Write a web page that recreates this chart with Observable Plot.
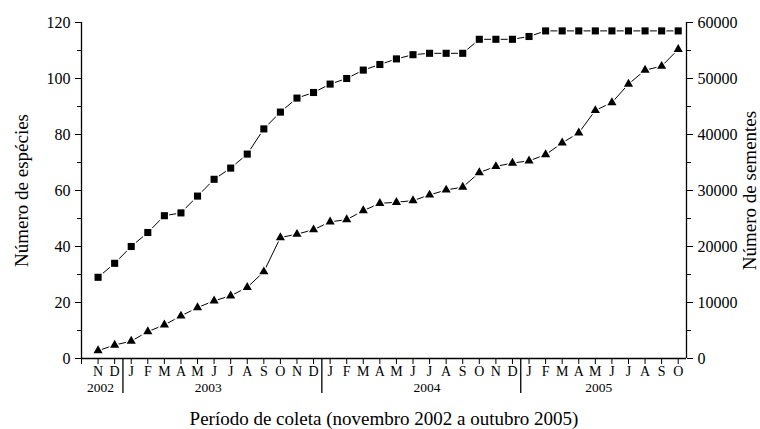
<!DOCTYPE html>
<html>
<head>
<meta charset="utf-8">
<script src="https://cdn.jsdelivr.net/npm/d3@7"></script>
<script src="https://cdn.jsdelivr.net/npm/@observablehq/plot@0.6"></script>
<style>
  html, body { margin: 0; padding: 0; background: #fff; }
  #chart svg { display: block; }
  #chart svg, #chart svg text, #chart svg g { font-family: "Liberation Serif", "Times New Roman", serif !important; font-variant: normal !important; font-variant-numeric: normal !important; }
  #chart g[aria-label="y-axis label"] text,
  #chart g[aria-label="x-axis label"] text { font-size: 19px; }
</style>
</head>
<body>
<div id="chart"></div>
<script>
// Month initials, November 2002 to October 2005
const months = ["N","D","J","F","M","A","M","J","J","A","S","O","N","D",
                "J","F","M","A","M","J","J","A","S","O","N","D",
                "J","F","M","A","M","J","J","A","S","O"];
// Cumulative number of species (left axis)
const species = [29,34,40,45,51,52,58,64,68,73,82,88,93,95,
                 98,100,103,105,107,108.5,109,109,109,114,114,114,
                 115,117,117,117,117,117,117,117,117,117];
// Cumulative number of seeds (right axis)
const seeds = [1400,2400,3100,4800,6000,7600,9100,10300,11200,12700,15500,21600,22200,23000,
               24400,24800,26400,27700,27900,28200,29200,30100,30600,33200,34300,34900,
               35300,36400,38500,40300,44300,45700,49000,51500,52200,55200];
// Year labels and their positions (in month index units)
const years = ["2002","2003","2004","2005"];
const yearPos = [0.15, 6.65, 19.85, 30.2];
const yearBreaks = [1.5, 13.5, 25.5];
// Axis ticks
const speciesTicks = [0,20,40,60,80,100,120];
const speciesMinor = [10,30,50,70,90,110];
const seedMax = 60000, speciesMax = 120;
const ratio = seedMax / speciesMax;

const data = months.map((m, i) => ({i, month: m, species: species[i], seeds: seeds[i], seedsScaled: seeds[i] / ratio}));
const serif = "'Liberation Serif', 'Times New Roman', serif";

const chart = Plot.plot({
  width: 760,
  height: 429,
  marginLeft: 81,
  marginRight: 74,
  marginTop: 22,
  marginBottom: 71,
  style: {fontFamily: serif, fontSize: "16px", color: "#000", background: "#fff"},
  x: {domain: [-1, 35.5]},
  y: {domain: [0, speciesMax]},
  marks: [
    // axis lines
    Plot.ruleX([-1, 35.5], {stroke: "#000", strokeWidth: 1.3}),
    Plot.ruleY([0], {stroke: "#000", strokeWidth: 1.3}),
    // left axis
    Plot.axisY({anchor: "left", ticks: speciesTicks, tickSize: 6, tickPadding: 5, fontSize: 16, fontFamily: serif, fontVariant: "normal",
      tickFormat: d => String(d),
      label: "Número de espécies", labelAnchor: "center", labelArrow: "none", labelOffset: 67}),
    Plot.axisY({anchor: "left", ticks: speciesMinor, tickSize: 4, tickFormat: () => "", label: null}),
    // right axis
    Plot.axisY({anchor: "right", ticks: speciesTicks, tickSize: 6, tickPadding: 5, fontSize: 16, fontFamily: serif, fontVariant: "normal",
      tickFormat: d => String(d * ratio),
      label: "Número de sementes", labelAnchor: "center", labelArrow: "none", labelOffset: 69}),
    Plot.axisY({anchor: "right", ticks: speciesMinor, tickSize: 4, tickFormat: () => "", label: null}),
    // bottom axis: months
    Plot.axisX({ticks: d3.range(-1, 36), tickSize: 6, tickPadding: 2, fontSize: 14, fontFamily: serif,
      tickFormat: d => months[d] ?? "",
      label: "Período de coleta (novembro 2002 a outubro 2005)", labelAnchor: "center", labelArrow: "none", labelOffset: 66}),
    // year separators
    Plot.axisX({ticks: yearBreaks, tickSize: 35, tickFormat: () => "", label: null, strokeWidth: 1.3}),
    // year labels
    Plot.axisX({ticks: yearPos, tickSize: 0, tickPadding: 24, fontSize: 13.5, fontFamily: serif,
      tickFormat: d => years[yearPos.indexOf(d)], label: null}),
    // species series
    Plot.line(data, {x: "i", y: "species", stroke: "#000", strokeWidth: 1}),
    Plot.dot(data, {x: "i", y: "species", symbol: "square", fill: "#000", r: 4, stroke: "#fff", strokeWidth: 2.5, paintOrder: "stroke"}),
    // seeds series
    Plot.line(data, {x: "i", y: "seedsScaled", stroke: "#000", strokeWidth: 1}),
    Plot.dot(data, {x: "i", y: "seedsScaled", symbol: "triangle", fill: "#000", r: 3.4, stroke: "#fff", strokeWidth: 2.5, paintOrder: "stroke"})
  ]
});
document.getElementById("chart").appendChild(chart);
</script>
</body>
</html>
